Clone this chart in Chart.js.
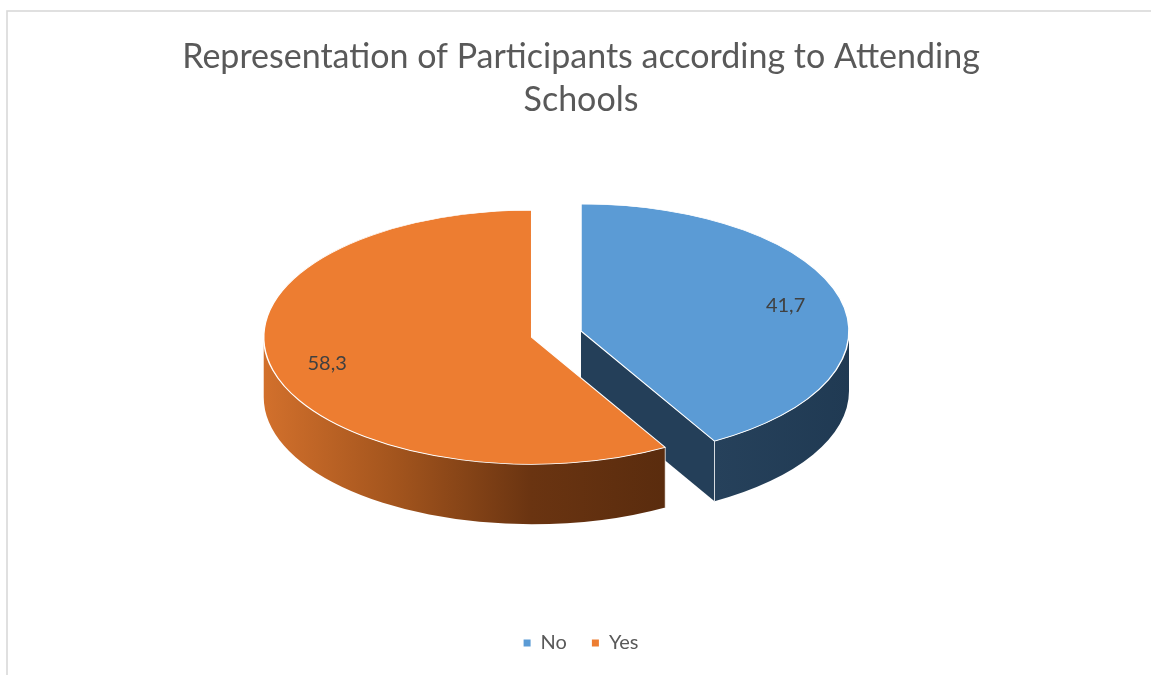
<!DOCTYPE html>
<html>
<head>
<meta charset="utf-8">
<script src="https://cdn.jsdelivr.net/npm/chart.js@4.4.1/dist/chart.umd.min.js"></script>
<style>
  html, body { margin: 0; padding: 0; background: #ffffff; }
  #wrap { width: 1151px; height: 675px; }
</style>
</head>
<body>
<div id="wrap"><canvas id="pie" width="1151" height="675"></canvas></div>
<script>
// Chart content
const titleLines = ['Representation of Participants according to Attending', 'Schools'];
const categories = ['No', 'Yes'];
const shares = [41.7, 58.3];

// Styling for the tilted pie
const topColors = ['#5b9bd5', '#ed7d31'];
const wallShades = [['#26415b', '#203a53'], ['#d2702c', '#a2541d', '#6a3411', '#5a2c0e']];
const cutFaceColors = ['#243f59', '#6a3411'];
const explodeBy = [0, 51];

const TAU = Math.PI * 2;

function sliceGeometry(chart, opts) {
  const meta = chart.getDatasetMeta(0);
  const k = opts.tilt;
  return meta.data.map((el, i) => {
    const p = el.getProps(['x', 'y', 'startAngle', 'endAngle', 'outerRadius'], true);
    const mid = (p.startAngle + p.endAngle) / 2;
    const e = opts.explode[i] || 0;
    return {
      el, i, mid, e,
      a: p.startAngle, b: p.endAngle, r: p.outerRadius,
      px: p.x, py: p.y,
      cx: p.x + e * Math.cos(mid),
      cy: p.y + k * e * Math.sin(mid)
    };
  });
}

function wallGradient(ctx, s, lo, hi, stops) {
  let minX = Infinity, maxX = -Infinity;
  for (let j = 0; j <= 40; j++) {
    const t = lo + (hi - lo) * j / 40;
    const x = s.cx + s.r * Math.cos(t);
    minX = Math.min(minX, x); maxX = Math.max(maxX, x);
  }
  const g = ctx.createLinearGradient(minX, 0, maxX, 0);
  stops.forEach((c, j) => g.addColorStop(j / (stops.length - 1), c));
  return g;
}

function drawSides(ctx, s, k, depth) {
  const {cx, cy, r} = s;
  // cut faces that turn towards the viewer
  const faces = [];
  if (-Math.cos(s.a) > 0.02) faces.push(s.a);
  if (Math.cos(s.b) > 0.02) faces.push(s.b);
  faces.forEach(t => {
    const ex = cx + r * Math.cos(t), ey = cy + k * r * Math.sin(t);
    ctx.beginPath();
    ctx.moveTo(cx, cy);
    ctx.lineTo(ex, ey);
    ctx.lineTo(ex, ey + depth);
    ctx.lineTo(cx, cy + depth);
    ctx.closePath();
    ctx.fillStyle = cutFaceColors[s.i];
    ctx.fill();
  });
  // outer rim on the front half
  for (let n = -1; n <= 1; n++) {
    const lo = Math.max(s.a, TAU * n);
    const hi = Math.min(s.b, Math.PI + TAU * n);
    if (hi <= lo) continue;
    ctx.beginPath();
    ctx.ellipse(cx, cy, r, k * r, 0, lo, hi, false);
    ctx.lineTo(cx + r * Math.cos(hi), cy + k * r * Math.sin(hi) + depth);
    ctx.ellipse(cx, cy + depth, r, k * r, 0, hi, lo, true);
    ctx.closePath();
    ctx.fillStyle = wallGradient(ctx, s, lo, hi, wallShades[s.i]);
    ctx.fill();
    // light seam on the slice corners
    ctx.strokeStyle = 'rgba(255,255,255,0.75)';
    ctx.lineWidth = 1;
    [lo === s.a ? lo : null, hi === s.b ? hi : null].forEach(t => {
      if (t === null) return;
      const x = cx + r * Math.cos(t), y = cy + k * r * Math.sin(t);
      ctx.beginPath();
      ctx.moveTo(x, y);
      ctx.lineTo(x, y + depth);
      ctx.stroke();
    });
  }
}

const frame = {
  id: 'frame',
  beforeDraw(chart) {
    const ctx = chart.ctx;
    ctx.save();
    ctx.fillStyle = '#ffffff';
    ctx.fillRect(0, 0, chart.width, chart.height);
    ctx.strokeStyle = '#d9d9d9';
    ctx.lineWidth = 1.6;
    ctx.strokeRect(7, 11, chart.width + 20, chart.height + 20);
    ctx.restore();
  }
};

const tiltedPie = {
  id: 'tiltedPie',
  beforeDatasetDraw(chart, args, opts) {
    const ctx = chart.ctx;
    const k = opts.tilt;
    const slices = sliceGeometry(chart, opts);
    ctx.save();
    slices.slice()
      .sort((p, q) => (p.cy + Math.sin(p.mid) * p.r * k * 0.5) - (q.cy + Math.sin(q.mid) * q.r * k * 0.5))
      .forEach(s => drawSides(ctx, s, k, opts.depth));
    ctx.restore();
    // top faces: the library's own arcs, flattened around the pie centre
    slices.forEach(s => {
      ctx.save();
      ctx.translate(0, s.py);
      ctx.scale(1, k);
      ctx.translate(0, -s.py);
      ctx.translate(s.e * Math.cos(s.mid), s.e * Math.sin(s.mid));
      s.el.draw(ctx);
      ctx.restore();
    });
    return false;
  },
  afterDraw(chart, args, opts) {
    const ctx = chart.ctx;
    const k = opts.tilt;
    const slices = sliceGeometry(chart, opts);
    const values = chart.data.datasets[0].data;
    ctx.save();
    ctx.font = '20px Lato';
    ctx.fillStyle = '#404040';
    ctx.textAlign = 'center';
    ctx.textBaseline = 'middle';
    slices.forEach(s => {
      const f = opts.labelAt;
      const x = s.cx + f * s.r * Math.cos(s.mid);
      const y = s.cy + k * f * s.r * Math.sin(s.mid);
      ctx.fillText(values[s.i].toFixed(1).replace('.', ','), x, y);
    });
    ctx.restore();
  }
};

new Chart(document.getElementById('pie'), {
  type: 'pie',
  data: {
    labels: categories,
    datasets: [{
      data: shares,
      backgroundColor: topColors,
      borderColor: '#ffffff',
      borderWidth: 1.5,
      radius: 268,
      clip: false
    }]
  },
  plugins: [frame, tiltedPie],
  options: {
    responsive: false,
    devicePixelRatio: 1,
    animation: false,
    events: [],
    layout: { padding: { top: 10, left: 11, right: 0, bottom: 12 } },
    plugins: {
      tiltedPie: { tilt: 0.474, depth: 60, explode: explodeBy, labelAt: 0.79 },
      title: {
        display: true,
        text: titleLines,
        color: '#595959',
        font: { family: 'Lato', size: 34, weight: '400', lineHeight: '43px' },
        padding: { top: 26, bottom: -68 }
      },
      legend: {
        position: 'bottom',
        labels: {
          color: '#595959',
          font: { family: 'Lato', size: 20 },
          boxWidth: 7,
          boxHeight: 7,
          padding: 25,
          generateLabels(chart) {
            const base = Chart.overrides.pie.plugins.legend.labels.generateLabels(chart);
            return base.map(item => Object.assign(item, { lineWidth: 0, strokeStyle: 'rgba(0,0,0,0)' }));
          }
        }
      },
      tooltip: { enabled: false }
    }
  }
});
</script>
</body>
</html>
